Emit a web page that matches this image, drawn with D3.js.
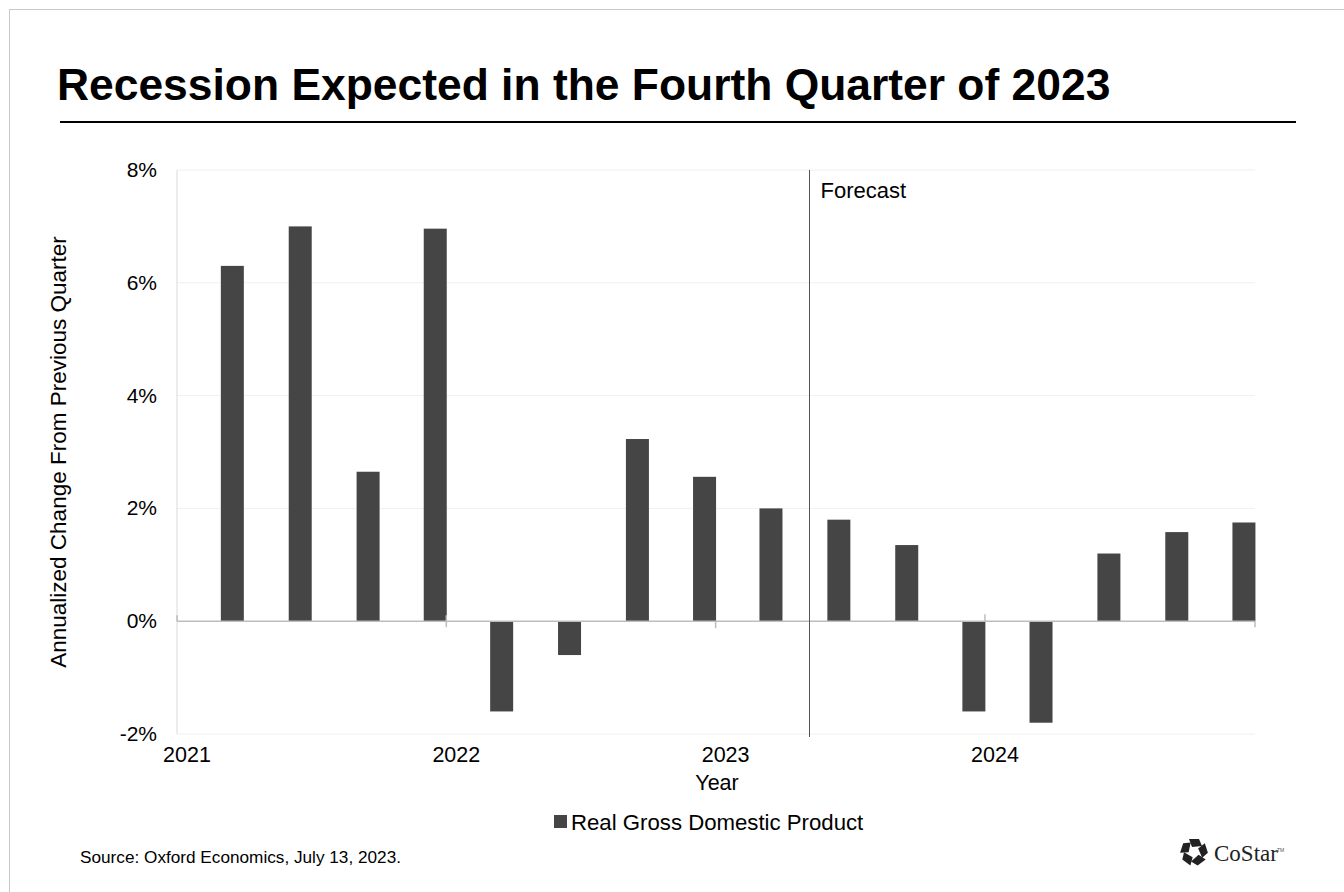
<!DOCTYPE html>
<html>
<head>
<meta charset="utf-8">
<script src="https://cdn.jsdelivr.net/npm/d3@7"></script>
<style>
  html, body { margin: 0; padding: 0; background: #fff; }
  svg { display: block; font-family: "Liberation Sans", Arial, sans-serif; }
</style>
</head>
<body>
<div id="chart"></div>
<script>
const WIDTH = 1344;
const HEIGHT = 892;

// quarters, growth (annualized % change)
const quarters = ["2021Q1", "2021Q2", "2021Q3", "2021Q4",
    "2022Q1", "2022Q2", "2022Q3", "2022Q4",
    "2023Q1", "2023Q2", "2023Q3", "2023Q4",
    "2024Q1", "2024Q2", "2024Q3", "2024Q4"];
const gdpGrowth = [6.3, 7.0, 2.65, 6.96,
    -1.6, -0.6, 3.23, 2.56,
    2.0, 1.8, 1.35, -1.6,
    -1.8, 1.2, 1.58, 1.75];
const yTicks = [-2, 0, 2, 4, 6, 8];
const yearTicks = [2021, 2022, 2023, 2024];
const forecastStart = "2023-05-07";

const svg = d3.select("#chart")
    .append("svg")
    .attr("width", WIDTH)
    .attr("height", HEIGHT);

// frame round the slide
svg.append("rect")
    .attr("x", 9.5).attr("y", 9.5)
    .attr("width", WIDTH).attr("height", HEIGHT)
    .attr("fill", "none")
    .attr("stroke", "#c8c8c8");

svg.append("text")
    .attr("x", 57).attr("y", 100)
    .attr("font-size", 44.4)
    .attr("font-weight", "bold")
    .attr("fill", "#000")
    .text("Recession Expected in the Fourth Quarter of 2023");

svg.append("line")
    .attr("x1", 60).attr("x2", 1296)
    .attr("y1", 122).attr("y2", 122)
    .attr("stroke", "#000")
    .attr("stroke-width", 2);

/* SCALES */

// bars sit in the last month of each quarter
const quarterDate = q => new Date(+q.slice(0, 4), (+q.slice(5)) * 3 - 1, 17);

const x = d3.scaleTime()
    .domain([new Date(2021, 0, 1), new Date(2025, 0, 1)])
    .range([177, 1255]);

const y = d3.scaleLinear()
    .domain([-2, 8])
    .range([734, 170]);

const data = quarters.map((q, i) => ({ q, date: quarterDate(q), value: gdpGrowth[i] }));

const BAR_WIDTH = 23;

/* GRID AND AXES */

svg.append("g")
    .selectAll("line")
    .data(yTicks.filter(t => t !== 0))
    .join("line")
    .attr("x1", x.range()[0]).attr("x2", x.range()[1])
    .attr("y1", d => y(d)).attr("y2", d => y(d))
    .attr("stroke", "#f0f0f0");

svg.append("line")
    .attr("x1", 177).attr("x2", 177)
    .attr("y1", y(8)).attr("y2", y(-2))
    .attr("stroke", "#d9d9d9");

svg.append("g")
    .selectAll("text")
    .data(yTicks)
    .join("text")
    .attr("x", 157)
    .attr("y", d => y(d) + 7)
    .attr("text-anchor", "end")
    .attr("font-size", 21)
    .attr("fill", "#000")
    .text(d => d + "%");

svg.append("text")
    .attr("transform", `translate(66, ${(y(8) + y(-2)) / 2}) rotate(-90)`)
    .attr("text-anchor", "middle")
    .attr("font-size", 22.5)
    .attr("fill", "#000")
    .text("Annualized Change From Previous Quarter");

/* BARS */

svg.append("g")
    .selectAll("rect")
    .data(data)
    .join("rect")
    .attr("x", d => x(d.date) - BAR_WIDTH / 2)
    .attr("width", BAR_WIDTH)
    .attr("y", d => y(Math.max(0, d.value)))
    .attr("height", d => Math.abs(y(d.value) - y(0)))
    .attr("fill", "#454545");

// zero line with year ticks
svg.append("line")
    .attr("x1", x.range()[0]).attr("x2", x.range()[1])
    .attr("y1", y(0)).attr("y2", y(0))
    .attr("stroke", "#bdbdbd")
    .attr("stroke-width", 1.5);

// tick marks: up / both / down / up / down, as the original draws them
const tickUp = [6, 6, 0, 7, 0];
const tickDown = [0, 6, 7, 0, 6];
svg.append("g")
    .selectAll("line")
    .data(yearTicks.concat([2025]))
    .join("line")
    .attr("x1", d => x(new Date(d, 0, 1)))
    .attr("x2", d => x(new Date(d, 0, 1)))
    .attr("y1", (d, i) => y(0) - tickUp[i])
    .attr("y2", (d, i) => y(0) + tickDown[i])
    .attr("stroke", "#bdbdbd")
    .attr("stroke-width", 1.5);

svg.append("g")
    .selectAll("text")
    .data(yearTicks)
    .join("text")
    .attr("x", d => x(new Date(d, 0, 1)) + 10)
    .attr("y", 762)
    .attr("text-anchor", "middle")
    .attr("font-size", 21.5)
    .attr("fill", "#000")
    .text(d => d);

svg.append("text")
    .attr("x", 717).attr("y", 790)
    .attr("text-anchor", "middle")
    .attr("font-size", 21.5)
    .attr("fill", "#000")
    .text("Year");

/* FORECAST MARKER */

const fx = Math.round(x(new Date(forecastStart))) + 0.5;
svg.append("line")
    .attr("x1", fx).attr("x2", fx)
    .attr("y1", y(8)).attr("y2", y(-2) + 3)
    .attr("stroke", "#555")
    .attr("stroke-width", 1);

svg.append("text")
    .attr("x", fx + 11).attr("y", 198)
    .attr("font-size", 22)
    .attr("fill", "#000")
    .text("Forecast");

/* LEGEND */

svg.append("rect")
    .attr("x", 554).attr("y", 815)
    .attr("width", 13).attr("height", 13)
    .attr("fill", "#454545");

svg.append("text")
    .attr("x", 571).attr("y", 830)
    .attr("font-size", 22.2)
    .attr("fill", "#000")
    .text("Real Gross Domestic Product");

svg.append("text")
    .attr("x", 80).attr("y", 863)
    .attr("font-size", 17.2)
    .attr("fill", "#000")
    .text("Source: Oxford Economics, July 13, 2023.");

/* LOGO */

const logo = svg.append("g")
    .attr("transform", "translate(1194, 852)");

d3.range(5).forEach(i => {
    logo.append("path")
        .attr("d", "M-5,-13 L5,-13 L8,-6 L-2,-5 Z")
        .attr("transform", `rotate(${i * 72})`)
        .attr("fill", "#222");
});

svg.append("text")
    .attr("x", 1214).attr("y", 861)
    .attr("font-family", "'Liberation Serif', 'DejaVu Serif', serif")
    .attr("font-size", 23)
    .attr("fill", "#222")
    .text("CoStar");

svg.append("text")
    .attr("x", 1277).attr("y", 852)
    .attr("font-size", 5)
    .attr("fill", "#555")
    .text("TM");
</script>
</body>
</html>
